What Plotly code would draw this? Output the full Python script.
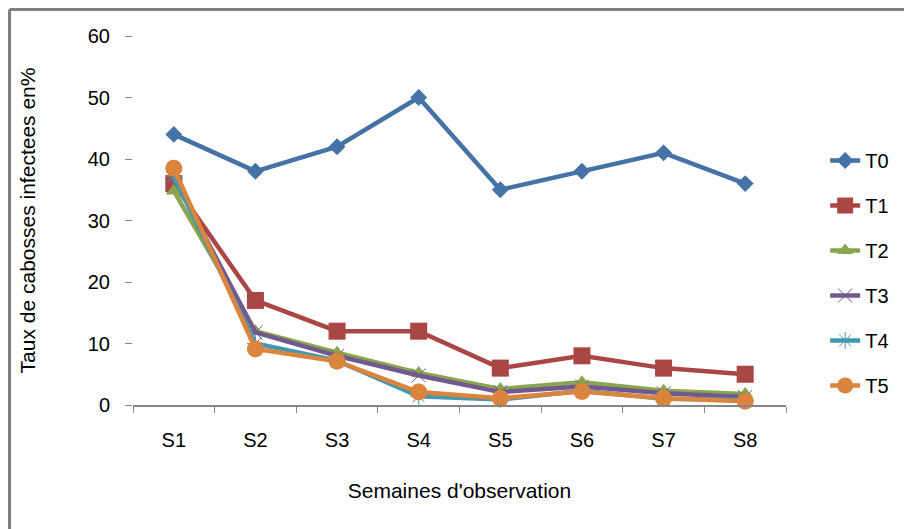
import plotly.graph_objects as go

categories = ["S1", "S2", "S3", "S4", "S5", "S6", "S7", "S8"]
series_names = ["T0", "T1", "T2", "T3", "T4", "T5"]
T0 = [44, 38, 42, 50, 35, 38, 41, 36]
T1 = [36, 17, 12, 12, 6, 8, 6, 5]
T2 = [34.8, 12, 8.5, 5.2, 2.6, 3.7, 2.3, 1.8]
T3 = [37, 11.8, 8, 4.8, 2.1, 3.0, 1.9, 1.3]
T4 = [37.2, 10, 7.2, 1.4, 0.9, 2.3, 1.0, 0.8]
T5 = [38.5, 9.1, 7.1, 2.1, 1.1, 2.2, 1.1, 0.6]
y_ticks = [0, 10, 20, 30, 40, 50, 60]

values = [T0, T1, T2, T3, T4, T5]
colors = ["#4572A7", "#AA4643", "#89A54E", "#71588F", "#4198AF", "#DB843D"]
symbols = ["diamond", "square", "triangle-up", "x-thin-open", "asterisk-open", "circle"]
sizes = [13, 17, 14, 14, 14, 17]

FONT = "Liberation Sans"

fig = go.Figure()
for name, vals, col, sym, sz in zip(series_names, values, colors, symbols, sizes):
    marker = dict(symbol=sym, size=sz, color=col)
    if sym.endswith("open"):
        marker["line"] = dict(color=col, width=1)
    fig.add_trace(go.Scatter(
        x=categories, y=vals, name=name, mode="lines+markers",
        line=dict(color=col, width=4.5), marker=marker,
        legendgroup=name, cliponaxis=False,
    ))

# page has an 8px body margin: work in screen pixels, shift by OFF
OFF = 8
W, H = 912 - OFF, 529 - OFF
L, R, T, B = 133 - OFF, 786 - OFF, 36 - OFF, 405 - OFF
pw, ph = R - L, B - T

def px_x(p):
    return (p - OFF - L) / pw

def px_y(p):
    return (B - (p - OFF)) / ph

fig.update_layout(
    width=W, height=H,
    margin=dict(l=L, r=W - R, t=T, b=H - B),
    paper_bgcolor="white", plot_bgcolor="white",
    font=dict(family=FONT, size=20, color="#000000"),
    showlegend=True,
    legend=dict(x=1.06, y=px_y(141), xanchor="left", yanchor="top",
                tracegroupgap=16, font=dict(size=20, family=FONT),
                bgcolor="rgba(0,0,0,0)"),
    xaxis=dict(
        type="category", range=[-0.5, 7.5],
        showline=True, linecolor="#868686", linewidth=1.5,
        ticks="outside", tickson="boundaries", ticklen=6, tickcolor="#868686",
        showgrid=False, zeroline=False,
        tickfont=dict(size=20, family=FONT),
        ticklabelstandoff=16,
        title=dict(text="Semaines d'observation", font=dict(size=21, family=FONT), standoff=34),
    ),
    yaxis=dict(
        range=[0, 60], tickvals=y_ticks, showline=False,
        ticks="outside", ticklen=7, tickcolor="#868686",
        showgrid=False, zeroline=False,
        tickfont=dict(size=20, family=FONT),
        ticklabelstandoff=11,
        title=dict(text="Taux de cabosses infectees en%", font=dict(size=21, family=FONT), standoff=46),
    ),
    shapes=[
        dict(type="line", xref="paper", yref="paper",
             x0=px_x(9.5), x1=px_x(930), y0=px_y(9.5), y1=px_y(9.5),
             line=dict(color="#808080", width=3)),
        dict(type="line", xref="paper", yref="paper",
             x0=px_x(9.5), x1=px_x(9.5), y0=px_y(9.5), y1=px_y(560),
             line=dict(color="#808080", width=3)),
    ],
)

fig.write_html("out.html")
